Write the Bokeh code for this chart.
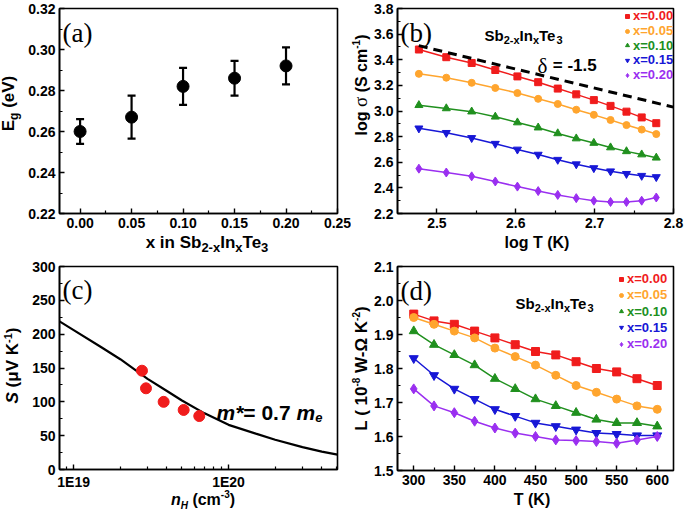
import numpy as np
from bokeh.plotting import figure
from bokeh.layouts import column, row
from bokeh.models import (Label, Legend, LegendItem, Whisker, TeeHead, ColumnDataSource,
                          FixedTicker, CustomJSTickFormatter, Range1d, NumeralTickFormatter, Div)
from bokeh.core.properties import value
from bokeh.embed import file_html
from bokeh.resources import INLINE

# ---------------- data ----------------
# (a) band gap
x_a = [0.00, 0.05, 0.10, 0.15, 0.20]
eg = [0.260, 0.267, 0.282, 0.286, 0.292]
eg_hi = [0.266, 0.2775, 0.291, 0.2945, 0.301]
eg_lo = [0.254, 0.2565, 0.273, 0.2775, 0.283]

# temperatures for (b) and (d)
T = [300, 325, 350, 375, 400, 425, 450, 475, 500, 525, 550, 575, 600]
labels = ["x=0.00", "x=0.05", "x=0.10", "x=0.15", "x=0.20"]
colors = ["#f01c1c", "#ffa52e", "#20901e", "#1717d6", "#9a2ff0"]
markers = ["square", "circle", "triangle", "inverted_triangle", "diamond"]

# (b) log sigma
logsig_000 = [3.48, 3.42, 3.375, 3.32, 3.27, 3.225, 3.175, 3.13, 3.085, 3.04, 2.995, 2.95, 2.905]
logsig_005 = [3.29, 3.26, 3.22, 3.18, 3.14, 3.095, 3.055, 3.01, 2.97, 2.93, 2.89, 2.855, 2.82]
logsig_010 = [3.045, 3.02, 2.995, 2.955, 2.91, 2.87, 2.825, 2.785, 2.75, 2.715, 2.685, 2.66, 2.635]
logsig_015 = [2.865, 2.83, 2.79, 2.745, 2.70, 2.66, 2.62, 2.585, 2.555, 2.53, 2.51, 2.495, 2.485]
logsig_020 = [2.55, 2.52, 2.49, 2.45, 2.41, 2.375, 2.345, 2.32, 2.30, 2.29, 2.29, 2.30, 2.325]
delta_x = [2.477, 2.80]
delta_y = [3.51, 3.03]

# (c) Seebeck vs carrier concentration
n_H = [2.76e19, 2.93e19, 3.81e19, 5.13e19, 6.47e19]
S_meas = [146, 120, 100, 88, 79]
n_fit = [8.1e18, 1e19, 1.5e19, 2e19, 3e19, 4e19, 5e19, 7e19, 1e20, 1.5e20, 2e20, 3e20, 4e20, 5.05e20]
S_fit = [219, 206, 181, 163, 134, 116, 102, 83, 66, 53, 44, 33, 26.5, 22]

# (d) Lorenz number
L_000 = [1.96, 1.94, 1.93, 1.91, 1.89, 1.87, 1.85, 1.84, 1.82, 1.80, 1.79, 1.77, 1.75]
L_005 = [1.95, 1.93, 1.91, 1.89, 1.86, 1.835, 1.81, 1.78, 1.75, 1.73, 1.71, 1.69, 1.68]
L_010 = [1.91, 1.87, 1.84, 1.81, 1.77, 1.74, 1.71, 1.69, 1.67, 1.65, 1.64, 1.64, 1.63]
L_015 = [1.83, 1.78, 1.74, 1.71, 1.68, 1.66, 1.64, 1.63, 1.62, 1.61, 1.607, 1.603, 1.603]
L_020 = [1.74, 1.69, 1.67, 1.645, 1.625, 1.61, 1.60, 1.59, 1.588, 1.585, 1.58, 1.59, 1.60]

# ticks
ticks_a_x = [0.00, 0.05, 0.10, 0.15, 0.20, 0.25]
minor_a_x = [0.025, 0.075, 0.125, 0.175, 0.225]
ticks_a_y = [0.22, 0.24, 0.26, 0.28, 0.30, 0.32]
minor_a_y = [0.23, 0.25, 0.27, 0.29, 0.31]
ticks_b_x = [2.5, 2.6, 2.7, 2.8]
minor_b_x = [2.55, 2.65, 2.75]
ticks_b_y = [2.2, 2.4, 2.6, 2.8, 3.0, 3.2, 3.4, 3.6, 3.8]
minor_b_y = [2.3, 2.5, 2.7, 2.9, 3.1, 3.3, 3.5, 3.7]
ticks_c_x = [1e19, 1e20]
minor_c_x = [9e18, 2e19, 3e19, 4e19, 5e19, 6e19, 7e19, 8e19, 9e19, 2e20, 3e20, 4e20, 5e20]
ticks_c_y = [0, 50, 100, 150, 200, 250, 300]
minor_c_y = [25, 75, 125, 175, 225, 275]
ticks_d_x = [300, 350, 400, 450, 500, 550, 600]
minor_d_x = [325, 375, 425, 475, 525, 575]
ticks_d_y = [1.5, 1.6, 1.7, 1.8, 1.9, 2.0, 2.1]
minor_d_y = [1.55, 1.65, 1.75, 1.85, 1.95, 2.05]

FONT = "Liberation Sans"
SERIF = "Liberation Serif"
CSS_SANS = "'Liberation Sans', Arial, sans-serif"

# approx. advance widths (em) for Arial/Liberation Sans Bold
CW = {' ': .278, '(': .333, ')': .333, '-': .333, '.': .278, '=': .584, '*': .389,
      'E': .667, 'H': .722, 'I': .278, 'K': .722, 'L': .611, 'S': .667, 'T': .611,
      'V': .667, 'W': .944, 'b': .611, 'c': .556, 'e': .556, 'g': .611, 'i': .278,
      'l': .278, 'm': .889, 'n': .611, 'o': .611, 'x': .556, 'δ': .5}
for d in "0123456789":
    CW[d] = .556


def tw(t, s):
    return sum(CW.get(c, .6) for c in t) * s


def rich(p, parts, x, y):
    """In-frame text made of pieces (sub/superscripts); screen px from frame bottom-left."""
    off = 0.0
    for (t, s, dy, f, st) in parts:
        lead = tw(t[:len(t) - len(t.lstrip())], s)
        p.add_layout(Label(x=x + off + lead, y=y + dy, x_units="screen", y_units="screen",
                           text=t.strip(), text_font=f, text_font_size=f"{s}px", text_font_style=st,
                           text_color="black", text_align="left", text_baseline="alphabetic"))
        off += tw(t, s)


def sp(t, fs, dy):
    return f'<span style="font-size:{fs}px;position:relative;top:{dy}px;">{t}</span>'


def xlabel_div(html, w, h, cx, top, fs):
    inner = (f'<div style="position:relative;width:{w}px;height:{h}px;">'
             f'<div style="position:absolute;left:{cx - 120}px;top:{top}px;width:240px;height:{fs}px;'
             f'line-height:{fs}px;text-align:center;white-space:nowrap;font-family:{CSS_SANS};'
             f'font-weight:bold;font-size:{fs}px;color:#000;">{html}</div></div>')
    return Div(text=inner, width=w, height=h, margin=0)


def ylabel_div(html, w, h, cx, cy, fs):
    inner = (f'<div style="position:relative;width:{w}px;height:{h}px;">'
             f'<div style="position:absolute;left:{cx - 110}px;top:{cy - fs / 2}px;width:220px;height:{fs}px;'
             f'line-height:{fs}px;text-align:center;white-space:nowrap;font-family:{CSS_SANS};'
             f'font-weight:bold;font-size:{fs}px;color:#000;transform:rotate(-90deg);">{html}</div></div>')
    return Div(text=inner, width=w, height=h, margin=0)


def make_fig(w, h, xr, yr, mbl, mbr, mbt, mbb, xt, xm, yt, ym, xfmt, yfmt, x_type="linear"):
    p = figure(width=w, height=h, x_range=xr, y_range=yr, x_axis_type=x_type,
               output_backend="svg", toolbar_location=None,
               min_border_left=mbl, min_border_right=mbr, min_border_top=mbt, min_border_bottom=mbb)
    p.grid.visible = False
    p.outline_line_color = "black"
    p.outline_line_width = 1.6
    p.outline_line_alpha = 1
    p.background_fill_color = "white"
    p.border_fill_color = "white"
    p.xaxis.ticker = FixedTicker(ticks=xt, minor_ticks=xm)
    p.yaxis.ticker = FixedTicker(ticks=yt, minor_ticks=ym)
    p.xaxis.formatter = xfmt
    p.yaxis.formatter = yfmt
    for ax in (p.xaxis[0], p.yaxis[0]):
        ax.axis_line_width = 1.6
        ax.axis_line_color = "black"
        ax.major_tick_in = 5
        ax.major_tick_out = 0
        ax.minor_tick_in = 3
        ax.minor_tick_out = 0
        ax.major_tick_line_width = 1.4
        ax.minor_tick_line_width = 1.2
        ax.major_tick_line_color = "black"
        ax.minor_tick_line_color = "black"
        ax.major_label_text_font = FONT
        ax.major_label_text_font_size = "14px"
        ax.major_label_text_font_style = "bold"
        ax.major_label_text_color = "black"
        ax.major_label_standoff = 4
    return p


def add_legends(p, rends, x0, ys):
    for lab, r, col, y in zip(labels, rends, colors, ys):
        lg = Legend(items=[LegendItem(label=value(lab), renderers=[r])], location=(x0, y),
                    background_fill_alpha=0, border_line_alpha=0, padding=0, margin=0, spacing=0,
                    glyph_width=10, glyph_height=12, label_height=12, label_standoff=1,
                    label_text_font=FONT, label_text_font_size="13px", label_text_font_style="bold",
                    label_text_color=col, label_text_baseline="middle")
        p.add_layout(lg)


def msize(mk):
    return 7 if mk in ("square", "circle") else (8 if "triangle" in mk else 9)


HT = 205   # frame height top row
HB = 204   # frame height bottom row

# ---------------- (a) ----------------
fa = make_fig(329, 235, Range1d(-0.02, 0.25), Range1d(0.22, 0.32), 37, 14, 8, 22,
              ticks_a_x, minor_a_x, ticks_a_y, minor_a_y,
              NumeralTickFormatter(format="0.00"), NumeralTickFormatter(format="0.00"))
src_a = ColumnDataSource(dict(x=x_a, y=eg, hi=eg_hi, lo=eg_lo))
fa.add_layout(Whisker(source=src_a, base="x", upper="hi", lower="lo", line_width=2.2, line_color="black",
                      upper_head=TeeHead(size=8, line_width=2.2, line_color="black"),
                      lower_head=TeeHead(size=8, line_width=2.2, line_color="black"), level="glyph"))
fa.scatter("x", "y", source=src_a, size=12, marker="circle", color="black")
rich(fa, [("(a)", 27, 0, SERIF, "normal")], 3, HT - 24)

# ---------------- (b) ----------------
fb = make_fig(314, 235, Range1d(2.45, 2.8), Range1d(2.2, 3.8), 26, 12, 8, 22,
              ticks_b_x, minor_b_x, ticks_b_y, minor_b_y,
              NumeralTickFormatter(format="0.0"), NumeralTickFormatter(format="0.0"))
logT = list(np.log10(T))
rb = []
for ys, col, mk in zip([logsig_000, logsig_005, logsig_010, logsig_015, logsig_020], colors, markers):
    fb.line(logT, ys, line_color=col, line_width=1.5)
    rb.append(fb.scatter(logT, ys, marker=mk, size=msize(mk), color=col))
fb.line(delta_x, delta_y, line_color="black", line_width=3, line_dash="9 6")
add_legends(fb, rb, 225, [190, 175, 160.5, 146, 131])
rich(fb, [("(b)", 27, 0, SERIF, "normal")], 3, HT - 24)
rich(fb, [("Sb", 15, 0, FONT, "bold"), ("2-x", 11, -4, FONT, "bold"), ("In", 15, 0, FONT, "bold"),
          ("x", 11, -4, FONT, "bold"), ("Te", 15, 0, FONT, "bold"), ("3", 11, -4, FONT, "bold")],
     87, HT - 27)
rich(fb, [("δ", 21, 0, SERIF, "normal"), (" = -1.5", 17, 0, FONT, "bold")], 140, HT - 57)

# ---------------- (c) ----------------
exp_fmt = CustomJSTickFormatter(code="return '1E' + Math.round(Math.log10(tick));")
fc = make_fig(329, 234, Range1d(8.1e18, 5.05e20), Range1d(0, 300), 37, 14, 8, 22,
              ticks_c_x, minor_c_x, ticks_c_y, minor_c_y,
              exp_fmt, NumeralTickFormatter(format="0"), x_type="log")
fc.line(n_fit, S_fit, line_color="black", line_width=2.2)
fc.scatter(n_H, S_meas, marker="circle", size=11, color="#f01c1c")
rich(fc, [("(c)", 27, 0, SERIF, "normal")], 3, HB - 24)
rich(fc, [("m*", 21, 0, FONT, "bold italic"), ("= 0.7 ", 21, 0, FONT, "bold"),
          ("m", 21, 0, FONT, "bold italic"), ("e", 13, -5, FONT, "bold italic")], 157, 57)

# ---------------- (d) ----------------
fd = make_fig(314, 234, Range1d(280, 620), Range1d(1.5, 2.1), 26, 12, 8, 22,
              ticks_d_x, minor_d_x, ticks_d_y, minor_d_y,
              NumeralTickFormatter(format="0"), NumeralTickFormatter(format="0.0"))
rd = []
for ys, col, mk in zip([L_000, L_005, L_010, L_015, L_020], colors, markers):
    fd.line(T, ys, line_color=col, line_width=1.5)
    rd.append(fd.scatter(T, ys, marker=mk, size=msize(mk) + 1, color=col))
add_legends(fd, rd, 219, [184, 168, 151.5, 135.25, 119])
rich(fd, [("(d)", 27, 0, SERIF, "normal")], 3, HB - 24)
rich(fd, [("Sb", 15, 0, FONT, "bold"), ("2-x", 11, -4, FONT, "bold"), ("In", 15, 0, FONT, "bold"),
          ("x", 11, -4, FONT, "bold"), ("Te", 15, 0, FONT, "bold"), ("3", 11, -4, FONT, "bold")],
     118, HB - 37)

# ---------------- axis titles (HTML, real text with sub/superscripts) ----------------
sig = '<span style="font-family:\'Liberation Serif\',serif;font-weight:normal;font-size:19px;">σ</span>'
ya = ylabel_div("E" + sp("g", 12, 4) + " (eV)", 22, 258, 8, 103, 17)
xa = xlabel_div("x in Sb" + sp("2-x", 13, 4) + "In" + sp("x", 13, 4) + "Te" + sp("3", 13, 4),
                329, 23, 185, -1, 17)
yb = ylabel_div("log " + sig + " (S cm" + sp("-1", 10, -7) + ")", 20, 258, 10, 85, 16)
xb = xlabel_div("log T (K)", 314, 23, 166, 0, 16)
yc = ylabel_div("<i>S</i> (μV K" + sp("-1", 11, -6) + ")", 22, 258, 12, 107, 17)
xc = xlabel_div("<i>n</i>" + sp("<i>H</i>", 10, 4) + " (cm" + sp("-3", 10, -7) + ")", 329, 24, 181, 0, 16)
yd = ylabel_div("L ( 10" + sp("-8", 10, -7) + " W-Ω K" + sp("-2", 10, -7) + ")", 20, 258, 10, 110, 17)
xd = xlabel_div("T (K)", 314, 24, 161, 0, 16)

top = row(ya, column(fa, xa), yb, column(fb, xb))
bottom = row(yc, column(fc, xc), yd, column(fd, xd))
layout = column(top, bottom)
open("out.html", "w").write(file_html(layout, INLINE))
